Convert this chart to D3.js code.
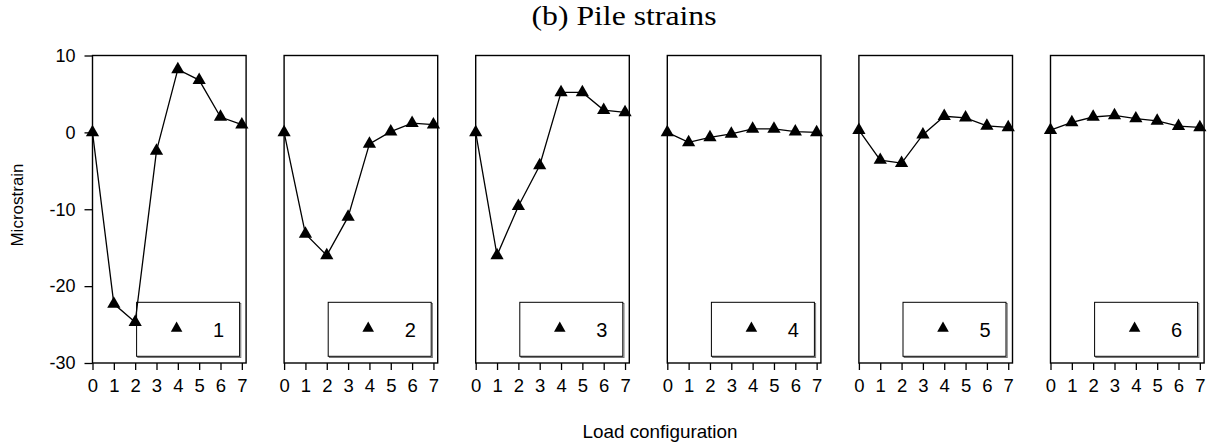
<!DOCTYPE html>
<html>
<head>
<meta charset="utf-8">
<script src="https://cdn.jsdelivr.net/npm/d3@7"></script>
<style>
  html, body { margin: 0; padding: 0; background: #fff; }
  svg { display: block; }
  text { font-family: "Liberation Sans", Arial, sans-serif; fill: #000; }
</style>
</head>
<body>
<svg id="chart" width="1212" height="444"></svg>
<script>
// ---- data ----
const configs = [0, 1, 2, 3, 4, 5, 6, 7];
const pileNames = ["1", "2", "3", "4", "5", "6"];
const pile1 = [0, -22.3, -24.7, -2.4, 8.2, 6.8, 2.0, 1.0];
const pile2 = [0, -13.2, -16.0, -11.0, -1.5, 0.1, 1.2, 1.0];
const pile3 = [0, -16.0, -9.6, -4.3, 5.2, 5.2, 2.9, 2.6];
const pile4 = [0, -1.3, -0.65, -0.2, 0.45, 0.45, 0.1, 0.0];
const pile5 = [0.3, -3.6, -4.0, -0.3, 2.1, 1.9, 0.85, 0.65];
const pile6 = [0.3, 1.3, 2.0, 2.2, 1.8, 1.5, 0.8, 0.65];
const yTickValues = [-30, -20, -10, 0, 10];
const titleText = "(b) Pile strains";
const xLabel = "Load configuration";
const yLabel = "Microstrain";

const series = [pile1, pile2, pile3, pile4, pile5, pile6];

// ---- layout ----
const svg = d3.select("#chart");
const panelLeft0 = 92.5, panelStep = 191.6, panelW = 153.6;
const plotTop = 55.5, plotBottom = 363;

const y = d3.scaleLinear().domain([-30, 10]).range([plotBottom, plotTop]);
const tri = d3.symbol().type(d3.symbolTriangle).size(76);
const triLegend = d3.symbol().type(d3.symbolTriangle).size(58);
const fmt = d => String(d);

series.forEach((vals, i) => {
  const x0 = panelLeft0 + i * panelStep;
  const x = d3.scaleLinear().domain([0, 7.2]).range([x0, x0 + panelW]);
  const g = svg.append("g");

  // frame
  g.append("rect")
    .attr("x", x0).attr("y", plotTop)
    .attr("width", panelW).attr("height", plotBottom - plotTop)
    .attr("fill", "none").attr("stroke", "#000").attr("stroke-width", 1.4);

  // x axis
  const xa = g.append("g").attr("transform", `translate(0,${plotBottom})`)
    .call(d3.axisBottom(x).tickValues(configs).tickSize(7).tickPadding(9).tickFormat(fmt));
  xa.select(".domain").remove();
  xa.selectAll("line").attr("stroke", "#000").attr("stroke-width", 1.3);
  xa.selectAll("text").style("font-family", "Liberation Sans, Arial, sans-serif").style("font-size", "18.5px");

  // y axis only on first panel
  if (i === 0) {
    const ya = g.append("g").attr("transform", `translate(${x0},0)`)
      .call(d3.axisLeft(y).tickValues(yTickValues).tickSize(8).tickPadding(9).tickFormat(fmt));
    ya.select(".domain").remove();
    ya.selectAll("line").attr("stroke", "#000").attr("stroke-width", 1.3);
    ya.selectAll("text").style("font-family", "Liberation Sans, Arial, sans-serif").style("font-size", "18px");
  }

  // legend box
  const bx = x0 + panelW - 6.5 - 103, by = 302.3, bw = 103, bh = 54;
  g.append("rect").attr("x", bx + 1.2).attr("y", by + 1.2).attr("width", bw).attr("height", bh)
    .attr("fill", "none").attr("stroke", "#777").attr("stroke-width", 1);
  g.append("rect").attr("x", bx).attr("y", by).attr("width", bw).attr("height", bh)
    .attr("fill", "#fff").attr("stroke", "#000").attr("stroke-width", 1);
  g.append("path").attr("d", triLegend).attr("fill", "#000")
    .attr("transform", `translate(${bx + 40},${by + 26})`);
  g.append("text").attr("x", bx + 82).attr("y", by + 27).attr("dy", "0.36em")
    .attr("text-anchor", "middle").style("font-size", "20px").text(pileNames[i]);

  // line
  const line = d3.line().x((d, j) => x(configs[j])).y(d => y(d));
  g.append("path").datum(vals).attr("d", line)
    .attr("fill", "none").attr("stroke", "#000").attr("stroke-width", 1.3);
  g.selectAll("path.m").data(vals).enter().append("path").attr("class", "m")
    .attr("d", tri).attr("fill", "#000")
    .attr("transform", (d, j) => `translate(${x(configs[j])},${y(d)})`);
});

// title
svg.append("text").attr("x", 624).attr("y", 25).attr("text-anchor", "middle")
  .attr("textLength", 185).attr("lengthAdjust", "spacingAndGlyphs")
  .style("font-family", "Liberation Serif, Times New Roman, serif").style("font-size", "28px")
  .text(titleText);

// x label
svg.append("text").attr("x", 660).attr("y", 438).attr("text-anchor", "middle")
  .attr("textLength", 155).attr("lengthAdjust", "spacingAndGlyphs")
  .style("font-size", "18.5px").text(xLabel);

// y label
svg.append("text").attr("transform", "translate(23,205) rotate(-90)").attr("text-anchor", "middle")
  .style("font-size", "17px").text(yLabel);
</script>
</body>
</html>
